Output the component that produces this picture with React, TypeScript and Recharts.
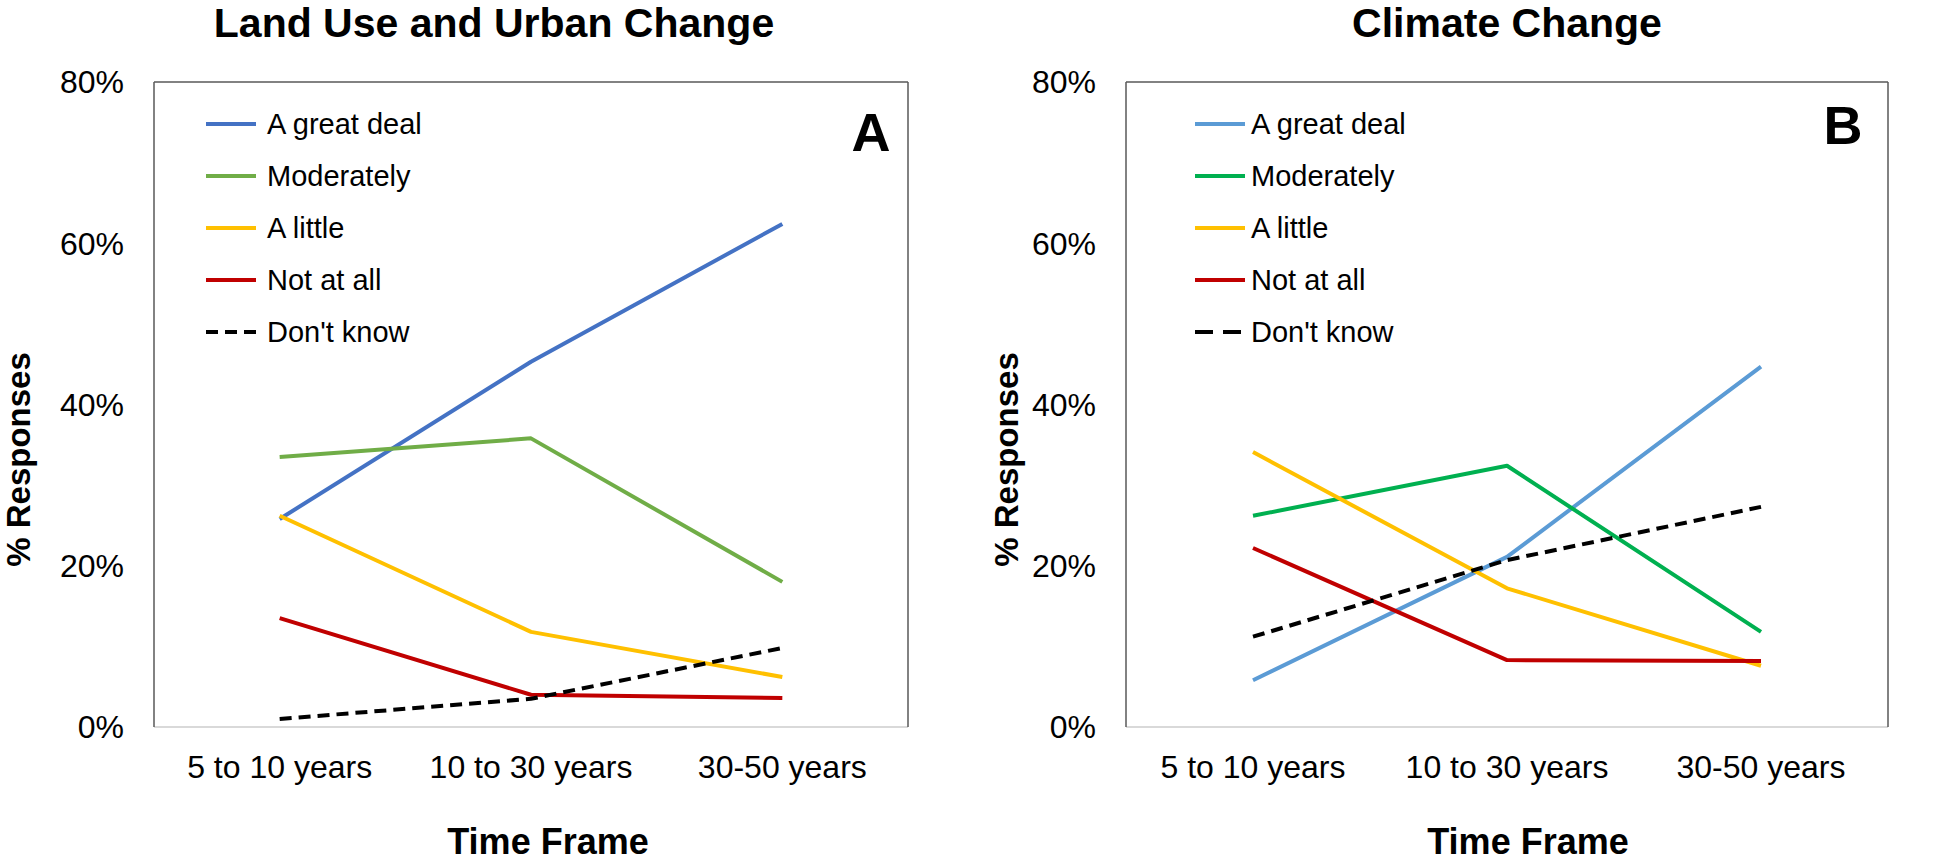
import React from 'react';
import { LineChart, Line, XAxis, YAxis, Legend, Label } from 'recharts';

const categories = ['5 to 10 years', '10 to 30 years', '30-50 years'];
const yTicks = [0, 20, 40, 60, 80];
const seriesNames = ['A great deal', 'Moderately', 'A little', 'Not at all', "Don't know"];

// Land use and urban change (%)
const landGreatDeal = [25.8, 45.3, 62.4];
const landModerately = [33.5, 35.8, 18.0];
const landLittle = [26.2, 11.8, 6.2];
const landNotAtAll = [13.5, 4.0, 3.6];
const landDontKnow = [1.0, 3.5, 9.8];

// Climate change (%)
const climateGreatDeal = [5.8, 21.1, 44.7];
const climateModerately = [26.2, 32.4, 11.8];
const climateLittle = [34.1, 17.2, 7.6];
const climateNotAtAll = [22.2, 8.3, 8.2];
const climateDontKnow = [11.2, 20.7, 27.3];

const landColors = ['#4472C4', '#70AD47', '#FFC000', '#C00000', '#000000'];
const climateColors = ['#5B9BD5', '#00B050', '#FFC000', '#C00000', '#000000'];

const FONT = '"Liberation Sans", Arial, Helvetica, sans-serif';
const W = 972;
const H = 863;

function buildRows(cols: number[][]) {
  return categories.map((name, i) => {
    const row: Record<string, string | number> = { name };
    cols.forEach((col, j) => {
      row['s' + j] = col[i];
    });
    return row;
  });
}

interface PanelProps {
  left: number;
  title: string;
  titleX: number;
  letter: string;
  letterY: number;
  rows: Record<string, string | number>[];
  colors: string[];
  yAxisWidth: number;
  rightWidth: number;
  yTitleX: number;
  xTitleDx: number;
  legendLeft: number;
  legendGap: number;
  legendDash: string;
}

function Panel(p: PanelProps) {
  const renderLegend = () => (
    <div style={{ fontFamily: FONT, fontSize: 29, color: '#000' }}>
      {seriesNames.map((name, i) => (
        <div key={name} style={{ display: 'flex', alignItems: 'center', height: 52 }}>
          <svg width={50} height={8} style={{ display: 'block' }}>
            <line
              x1={0}
              x2={50}
              y1={4}
              y2={4}
              stroke={p.colors[i]}
              strokeWidth={4}
              strokeDasharray={i === 4 ? p.legendDash : undefined}
            />
          </svg>
          <span style={{ marginLeft: p.legendGap, lineHeight: 1, whiteSpace: 'nowrap' }}>{name}</span>
        </div>
      ))}
    </div>
  );

  return (
    <div style={{ position: 'absolute', left: p.left, top: 0, width: W, height: H }}>
      <LineChart width={W} height={H} data={p.rows} margin={{ top: 80, right: 0, bottom: 0, left: 0 }}>
        <XAxis
          dataKey="name"
          scale="band"
          interval={0}
          height={136}
          tickSize={0}
          tickMargin={28}
          tickLine={false}
          axisLine={{ stroke: '#d9d9d9', strokeWidth: 2 }}
          tick={{ fill: '#000', fontSize: 32, fontFamily: FONT }}
        >
          <Label
            content={(props: any) => {
              const vb = props.viewBox || {};
              return (
                <text
                  x={vb.x + vb.width / 2 + p.xTitleDx}
                  y={854}
                  textAnchor="middle"
                  fontFamily={FONT}
                  fontSize={36}
                  fontWeight="bold"
                  fill="#000"
                >
                  Time Frame
                </text>
              );
            }}
          />
        </XAxis>
        <XAxis
          xAxisId="top"
          dataKey="name"
          orientation="top"
          scale="band"
          height={2}
          tick={false}
          tickLine={false}
          axisLine={{ stroke: '#595959', strokeWidth: 1.5 }}
        />
        <YAxis
          domain={[0, 80]}
          ticks={yTicks}
          width={p.yAxisWidth}
          tickSize={0}
          tickMargin={30}
          tickLine={false}
          tickFormatter={(v: number) => `${v}%`}
          axisLine={{ stroke: '#595959', strokeWidth: 1.5 }}
          tick={{ fill: '#000', fontSize: 32, fontFamily: FONT }}
        >
          <Label
            content={(props: any) => {
              const vb = props.viewBox || {};
              const cy = vb.y + vb.height / 2 + 55;
              return (
                <text
                  x={p.yTitleX}
                  y={cy}
                  dy="0.355em"
                  transform={`rotate(-90, ${p.yTitleX}, ${cy})`}
                  textAnchor="middle"
                  fontFamily={FONT}
                  fontSize={33}
                  fontWeight="bold"
                  fill="#000"
                >
                  % Responses
                </text>
              );
            }}
          />
        </YAxis>
        <YAxis
          yAxisId="right"
          orientation="right"
          domain={[0, 80]}
          width={p.rightWidth}
          tick={false}
          tickLine={false}
          axisLine={{ stroke: '#595959', strokeWidth: 1.5 }}
        />
        <Legend
          layout="horizontal"
          align="center"
          verticalAlign="middle"
          content={renderLegend}
          wrapperStyle={{ left: p.legendLeft, top: 98, width: 420, height: 260 }}
        />
        {seriesNames.map((name, i) => (
          <Line
            key={name}
            name={name}
            type="linear"
            dataKey={'s' + i}
            stroke={p.colors[i]}
            strokeWidth={4}
            strokeDasharray={i === 4 ? '12 7' : undefined}
            strokeLinejoin="round"
            dot={false}
            activeDot={false}
            isAnimationActive={false}
          />
        ))}
      </LineChart>
      <div
        style={{
          position: 'absolute',
          left: p.titleX,
          top: 3,
          transform: 'translateX(-50%)',
          fontFamily: FONT,
          fontSize: 41,
          fontWeight: 'bold',
          lineHeight: 1,
          whiteSpace: 'nowrap',
          color: '#000',
        }}
      >
        {p.title}
      </div>
      <div
        style={{
          position: 'absolute',
          left: 871,
          top: p.letterY,
          transform: 'translate(-50%, -50%)',
          fontFamily: FONT,
          fontSize: 54,
          fontWeight: 'bold',
          lineHeight: 1,
          color: '#000',
        }}
      >
        {p.letter}
      </div>
    </div>
  );
}

export default function App() {
  const landRows = buildRows([landGreatDeal, landModerately, landLittle, landNotAtAll, landDontKnow]);
  const climateRows = buildRows([climateGreatDeal, climateModerately, climateLittle, climateNotAtAll, climateDontKnow]);

  return (
    <div style={{ position: 'absolute', left: 0, top: 0, width: 1944, height: H, background: '#fff', overflow: 'hidden' }}>
      <Panel
        left={0}
        title="Land Use and Urban Change"
        titleX={494}
        letter="A"
        letterY={132}
        rows={landRows}
        colors={landColors}
        yAxisWidth={154}
        rightWidth={64}
        yTitleX={18}
        xTitleDx={17}
        legendLeft={206}
        legendGap={11}
        legendDash="12 7"
      />
      <Panel
        left={972}
        title="Climate Change"
        titleX={535}
        letter="B"
        letterY={125}
        rows={climateRows}
        colors={climateColors}
        yAxisWidth={154}
        rightWidth={56}
        yTitleX={34}
        xTitleDx={21}
        legendLeft={223}
        legendGap={6}
        legendDash="18 10"
      />
    </div>
  );
}
